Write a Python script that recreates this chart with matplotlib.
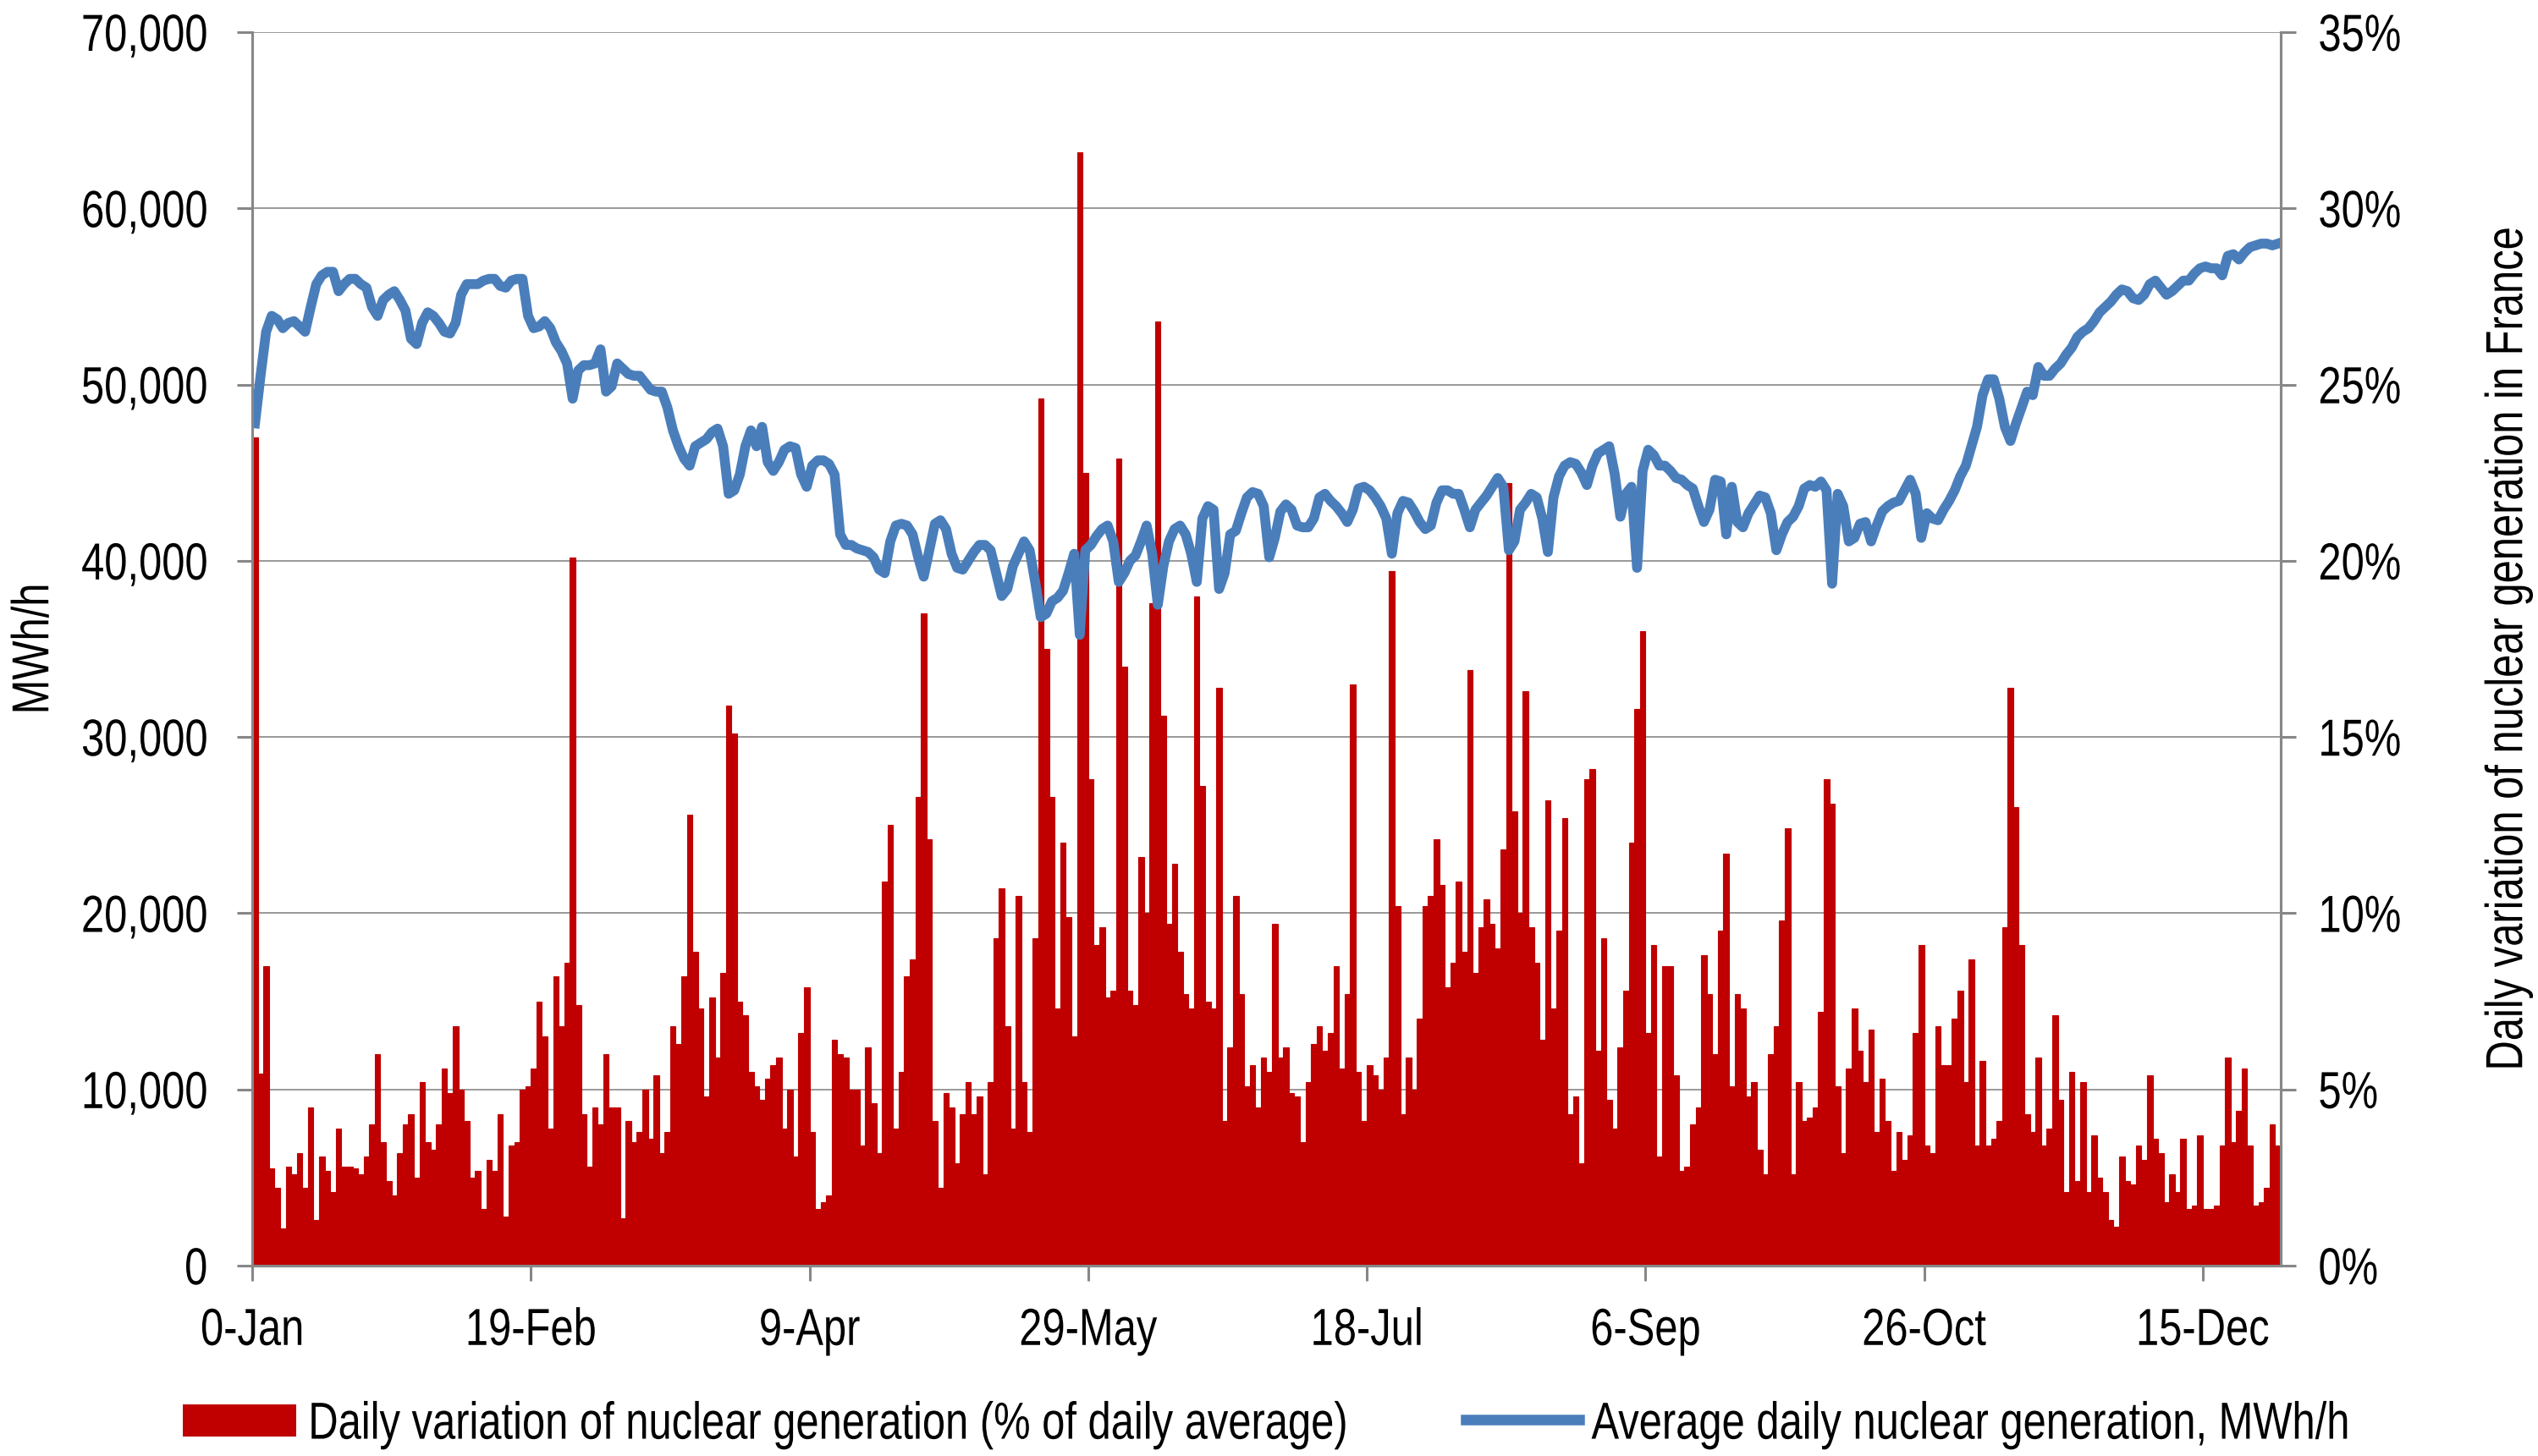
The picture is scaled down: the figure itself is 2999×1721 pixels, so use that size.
"""Daily nuclear generation in France — average level vs. daily variation."""
import matplotlib
matplotlib.use("Agg")
import matplotlib.pyplot as plt
import matplotlib.patheffects as pe
import matplotlib.transforms as mtransforms
from matplotlib.lines import Line2D
from matplotlib.patches import Patch
from matplotlib.text import Text
import numpy as np

plt.rcParams["font.family"] = ["Liberation Sans", "DejaVu Sans"]

# daily variation of nuclear generation, % of daily average (one value per day)
variation_pct = [
    23.5, 5.45, 8.5, 2.75, 2.2, 1.05, 2.8, 2.6, 3.2, 2.2, 4.5, 1.3, 3.1, 2.7, 2.1, 3.9,
    2.8, 2.8, 2.75, 2.6, 3.1, 4.0, 6.0, 3.5, 2.4, 2.0, 3.2, 4.0, 4.3, 2.5, 5.2, 3.5,
    3.3, 4.0, 5.6, 4.9, 6.8, 5.0, 4.1, 2.5, 2.7, 1.6, 3.0, 2.7, 4.3, 1.4,
    3.4, 3.5, 5.0, 5.1, 5.6, 7.5, 6.5, 3.9, 8.2, 6.8, 8.6, 20.1, 7.4, 4.3, 2.8, 4.5,
    4.0, 6.0, 4.5, 4.5, 1.35, 4.1, 3.5, 3.8, 5.0, 3.6, 5.4, 3.2, 3.8, 6.8, 6.3, 8.2,
    12.8, 8.9, 7.3, 4.8, 7.6, 5.9, 8.3, 15.9, 15.1, 7.5, 7.1, 5.5, 5.1,
    4.7, 5.3, 5.7, 5.9, 3.9, 5.0, 3.1, 6.6, 7.9, 3.8, 1.6, 1.8, 2.0, 6.4, 6.0, 5.9,
    5.0, 5.0, 3.4, 6.2, 4.6, 3.2, 10.9, 12.5, 3.9, 5.5, 8.2, 8.7, 13.3, 18.5, 12.1, 4.1,
    2.2, 4.9, 4.5, 2.9, 4.3, 5.2, 4.3, 4.8, 2.6, 5.2, 9.3, 10.7, 6.8, 3.9,
    10.5, 5.2, 3.8, 9.3, 24.6, 17.5, 13.3, 7.3, 12.0, 9.9, 6.5, 31.6, 22.5, 13.8, 9.1, 9.6,
    7.6, 7.8, 22.9, 17.0, 7.8, 7.4, 11.6, 10.0, 18.8, 26.8, 15.6, 9.7, 11.4, 8.9, 7.7, 7.3,
    19.0, 13.6, 7.5, 7.3, 16.4, 4.1, 6.2, 10.5, 7.7, 5.1, 5.7, 4.5, 5.9,
    5.5, 9.7, 5.9, 6.2, 4.9, 4.8, 3.5, 5.2, 6.3, 6.8, 6.1, 6.6, 8.5, 5.6, 7.7, 16.5,
    5.5, 4.1, 5.7, 5.4, 5.0, 5.9, 19.7, 10.2, 4.3, 5.9, 5.0, 7.0, 10.2, 10.5, 12.1, 10.8,
    7.9, 8.6, 10.9, 8.9, 16.9, 8.3, 9.6, 10.4, 9.7, 9.0, 11.8, 22.2, 12.9, 10.0,
    16.3, 9.6, 8.6, 6.4, 13.2, 7.3, 9.5, 12.7, 4.3, 4.8, 2.9, 13.8, 14.1, 6.1, 9.3, 4.7,
    3.9, 6.2, 7.8, 12.0, 15.8, 18.0, 6.6, 9.1, 3.1, 8.5, 8.5, 5.4, 2.7, 2.8, 4.0, 4.5,
    8.8, 7.7, 6.0, 9.5, 11.7, 5.1, 7.7, 7.3, 4.8, 5.2, 3.3, 2.6, 6.0,
    6.8, 9.8, 12.4, 2.6, 5.2, 4.1, 4.2, 4.5, 7.2, 13.8, 13.1, 5.1, 3.2, 5.6, 7.3, 6.1,
    5.2, 6.7, 3.8, 5.3, 4.1, 2.7, 3.8, 3.0, 3.7, 6.6, 9.1, 3.4, 3.2, 6.8, 5.7, 5.7,
    7.0, 7.8, 5.2, 8.7, 3.4, 5.8, 3.4, 3.6, 4.1, 9.6, 16.4, 13.0, 9.1, 4.3,
    3.8, 5.9, 3.4, 3.9, 7.1, 4.7, 2.1, 5.5, 2.4, 5.2, 2.1, 3.7, 2.5, 2.1, 1.3, 1.1,
    3.1, 2.4, 2.3, 3.4, 3.0, 5.4, 3.6, 3.2, 1.8, 2.6, 2.1, 3.6, 1.6, 1.7, 3.7, 1.6,
    1.6, 1.7, 3.4, 5.9, 3.5, 4.4, 5.6, 3.4, 1.7, 1.8, 2.2, 4.0, 3.4,
]

# average daily nuclear generation, MWh/h
avg_mwh = [
    47800, 50500, 53000, 53900, 53700, 53200, 53500, 53600, 53300, 53000, 54400, 55700,
    56200, 56400, 56400, 55300, 55700, 56000, 56000, 55700, 55500, 54400, 53900, 54800,
    55100, 55300, 54800, 54200, 52600, 52300, 53500, 54100, 53900, 53500, 53000, 52900,
    53500, 55100, 55700, 55700, 55700, 55900, 56000, 56000, 55600, 55500,
    55900, 56000, 56000, 53900, 53200, 53300, 53600, 53200, 52400, 51900, 51200, 49200,
    50800, 51100, 51100, 51200, 52000, 49600, 49900, 51200, 50900, 50600, 50500, 50500,
    50100, 49700, 49600, 49600, 48700, 47400, 46500, 45800, 45400, 46500, 46700, 46900,
    47300, 47500, 46500, 43800, 44000, 44900, 46500, 47400, 46500,
    47600, 45600, 45100, 45600, 46300, 46500, 46400, 44900, 44200, 45400, 45700, 45700,
    45500, 44900, 41500, 40900, 40900, 40700, 40600, 40500, 40200, 39500, 39300, 41100,
    42000, 42100, 42000, 41500, 40200, 39100, 40600, 42100, 42300, 41800, 40400, 39600,
    39500, 40000, 40500, 40900, 40900, 40600, 39300, 38000, 38400, 39700,
    40400, 41100, 40600, 38800, 36800, 37000, 37700, 37900, 38300, 39300, 40400, 35800,
    40600, 40900, 41400, 41800, 42000, 41100, 38800, 39300, 40000, 40300, 41100, 42000,
    40400, 37500, 39700, 41100, 41800, 42000, 41500, 40400, 38800, 42400, 43100, 42900,
    38400, 39300, 41500, 41700, 42700, 43600, 43900, 43800, 43100,
    40200, 41300, 42800, 43200, 42900, 42000, 41900, 41900, 42400, 43600, 43800, 43400,
    43100, 42700, 42200, 42900, 44100, 44200, 44000, 43600, 43100, 42400, 40400, 42700,
    43400, 43300, 42800, 42200, 41800, 42000, 43300, 44000, 44000, 43800, 43800, 42900,
    41900, 42900, 43300, 43700, 44200, 44700, 44200, 40600, 41100, 42900,
    43300, 43800, 43600, 42400, 40500, 43600, 44800, 45400, 45600, 45500, 45000, 44300,
    45400, 46100, 46300, 46500, 44900, 42500, 43800, 44200, 39600, 45100, 46300, 46000,
    45400, 45400, 45100, 44700, 44600, 44300, 44100, 43100, 42200, 42900, 44600, 44500,
    41500, 44200, 42200, 41900, 42700, 43200, 43700, 43600, 42700,
    40600, 41500, 42200, 42500, 43100, 44100, 44300, 44200, 44500, 44000, 38700, 43800,
    43100, 41100, 41300, 42100, 42200, 41100, 42000, 42800, 43100, 43300, 43400, 44000,
    44600, 43800, 41300, 42700, 42400, 42300, 42900, 43400, 44000, 44800, 45400, 46500,
    47600, 49400, 50300, 50300, 49200, 47600, 46800, 47800, 48700, 49600,
    49400, 51000, 50500, 50500, 50900, 51200, 51700, 52100, 52700, 53000, 53200, 53600,
    54100, 54400, 54700, 55100, 55400, 55300, 54900, 54800, 55100, 55700, 55900, 55500,
    55100, 55300, 55600, 55900, 55900, 56300, 56600, 56700, 56600, 56600, 56200, 57300,
    57400, 57100, 57500, 57800, 57900, 58000, 58000, 57900, 58000,
]

tick_days = [0, 50, 100, 150, 200, 250, 300, 350]
tick_labels = ["0-Jan", "19-Feb", "9-Apr", "29-May", "18-Jul", "6-Sep", "26-Oct", "15-Dec"]

RED = "#C00000"
BLUE = "#4A7EBB"
GRID = "#878787"
FS = 17.6


class StretchY(pe.AbstractPathEffect):
    """Taller glyphs (the source font is a vertically stretched Arial)."""

    def __init__(self, factor, mid=36):
        super().__init__()
        self._tr = mtransforms.Affine2D().translate(0, -mid).scale(1, factor).translate(0, mid)

    def draw_path(self, renderer, gc, tpath, affine, rgbFace=None):
        renderer.draw_path(gc, tpath, self._tr + affine, rgbFace)


days = np.arange(len(variation_pct))

fig = plt.figure(figsize=(14.995, 8.605), dpi=200)
ax = fig.add_axes([298 / 2999, 1 - 1496 / 1721, 2397 / 2999, 1458 / 1721])
ax2 = ax.twinx()

# bars on the right (%) axis, drawn behind the line
ax2.bar(days, variation_pct, width=1.0, align="edge", color=RED, edgecolor=RED, linewidth=0.4)
ax2.set_ylim(0, 35)
ax2.set_yticks(np.arange(0, 36, 5))
ax2.yaxis.set_major_formatter(plt.FuncFormatter(lambda v, _: f"{v:.0f}%"))
ax2.grid(axis="y", color=GRID, linewidth=0.6)
ax2.set_axisbelow(True)
ax2.set_ylabel("Daily variation of nuclear generation in France", fontsize=FS)
ax2.yaxis.set_label_coords(1.1025, 0.5)

ax.set_zorder(ax2.get_zorder() + 1)
ax.patch.set_visible(False)
ax.plot(days + 0.5, avg_mwh, color=BLUE, linewidth=4.2, solid_joinstyle="round")
ax.set_ylim(0, 70000)
ax.set_yticks(np.arange(0, 70001, 10000))
ax.yaxis.set_major_formatter(plt.FuncFormatter(lambda v, _: f"{v:,.0f}"))
ax.set_ylabel("MWh/h", fontsize=FS)
ax.yaxis.set_label_coords(-0.0982, 0.5)

ax.set_xlim(0, len(days))
ax.set_xticks(tick_days)
ax.set_xticklabels(tick_labels)

for a in (ax, ax2):
    a.spines["top"].set_visible(False)
    for side in ("left", "right", "bottom"):
        a.spines[side].set_color(GRID)
        a.spines[side].set_linewidth(1.1)
ax.tick_params(axis="y", labelsize=FS, length=6.5, width=1.1, pad=12.5, color=GRID)
ax.tick_params(axis="x", labelsize=FS, length=6.5, width=1.1, pad=13, color=GRID)
ax2.tick_params(axis="y", labelsize=FS, length=6.5, width=1.1, pad=9.5, color=GRID)

handles = [
    Patch(facecolor=RED, edgecolor="none"),
    Line2D([0], [0], color=BLUE, linewidth=4.5),
]
fig.legend(
    handles,
    ["Daily variation of nuclear generation (% of daily average)",
     "Average daily nuclear generation, MWh/h"],
    loc="center", bbox_to_anchor=(0.4988, 1 - 1683 / 1721), ncol=2, frameon=False,
    fontsize=FS, handlelength=2.75, handleheight=0.82, handletextpad=0.29,
    columnspacing=2.85,
)

fig.canvas.draw()
for t in fig.findobj(Text):
    t.set_path_effects([StretchY(1.26)])

fig.savefig("out.png", dpi=200)
plt.close(fig)
